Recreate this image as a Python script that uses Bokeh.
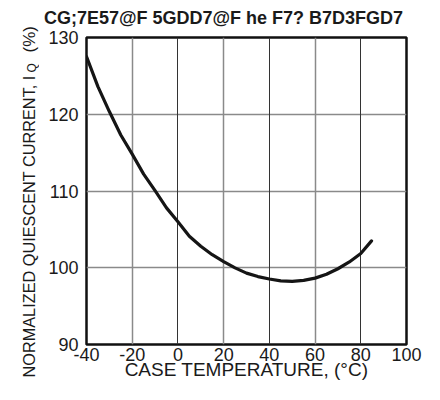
from math import pi
from bokeh.plotting import figure
from bokeh.models import Label, FixedTicker, Range1d, Grid
from bokeh.layouts import row, column
from bokeh.embed import file_html
from bokeh.resources import INLINE

# ---- data ----
temp_c = [-40, -35, -30, -25, -20, -15, -10, -5, 0, 5, 10, 15, 20, 25,
          30, 35, 40, 45, 50, 55, 60, 65, 70, 75, 80, 84.7]
iq_pct = [127.5, 123.6, 120.35, 117.3, 114.8, 112.2, 110.05, 107.8, 106.0,
          104.1, 102.8, 101.7, 100.8, 99.98, 99.3, 98.85, 98.53, 98.3, 98.23,
          98.35, 98.65, 99.15, 99.87, 100.75, 101.85, 103.5]
x_ticks = [-40, -20, 0, 20, 40, 60, 80, 100]
x_tick_labels = ["-40", "-20", "0", "20", "40", "60", "80", "100"]
y_ticks = [90, 100, 110, 120, 130]
x_grid_light = [-20, 20, 60]
x_grid_dark = [0, 40, 80]
title_text = "CG;7E57@F 5GDD7@F he F7? B7D3FGD7"
x_label = "CASE TEMPERATURE, (\u00b0C)"
y_label_main = "NORMALIZED QUIESCENT CURRENT, I"
y_label_sub = "Q"
y_label_tail = "(%)"

SANS = "'Liberation Sans', Arial, sans-serif"
INK = "#1a1a1a"

# layout in picture pixels
W, H = 424, 384
LW = 39                 # left strip holding the vertical axis title
MW = W - LW             # main figure width
TH = 27                 # strip holding the chart title
MH = H - TH             # main figure height
FRAME_L, FRAME_R = 86, 406


def no_align(f):
    if "frame_align" in f.properties():
        f.frame_align = False
    return f


def text_strip(w, h, x0, y0):
    f = figure(width=w, height=h, x_range=Range1d(x0, x0 + w),
               y_range=Range1d(y0 + h, y0), output_backend="svg",
               toolbar_location=None, x_axis_location=None,
               y_axis_location=None, min_border=0)
    f.grid.visible = False
    f.outline_line_color = None
    f.background_fill_color = "white"
    f.border_fill_color = "white"
    return no_align(f)


# ---- left strip: vertical axis title with subscript ----
left = text_strip(LW, H, 0, 0)
left.add_layout(Label(x=28.5, y=377, text=y_label_main, angle=pi / 2,
                      text_align="left", text_baseline="alphabetic",
                      text_font=SANS, text_font_size="16.3px",
                      text_color=INK))
left.add_layout(Label(x=31, y=72, text=y_label_sub, angle=pi / 2,
                      text_align="left", text_baseline="alphabetic",
                      text_font=SANS, text_font_size="12px",
                      text_color=INK))
left.add_layout(Label(x=28.5, y=52, text=y_label_tail, angle=pi / 2,
                      text_align="left", text_baseline="alphabetic",
                      text_font=SANS, text_font_size="17px",
                      text_color=INK))

# ---- top strip: chart title ----
top = text_strip(MW, TH, LW, 0)
top.add_layout(Label(x=223, y=17.5, text=title_text, text_align="center",
                     text_baseline="alphabetic", text_font=SANS,
                     text_font_style="bold", text_font_size="18px",
                     text_color=INK))

# ---- main chart ----
p = figure(width=MW, height=MH, x_range=Range1d(-40, 100),
           y_range=Range1d(90, 130), output_backend="svg",
           toolbar_location=None,
           min_border_left=FRAME_L - LW, min_border_right=W - FRAME_R,
           min_border_top=10, min_border_bottom=40)
no_align(p)
p.background_fill_color = "white"
p.border_fill_color = "white"
p.outline_line_color = "#111111"
p.outline_line_width = 2.5

for ax in (p.xaxis[0], p.yaxis[0]):
    ax.axis_line_color = None
    ax.major_tick_out = 0
    ax.major_tick_in = 0
    ax.minor_tick_out = 0
    ax.minor_tick_in = 0
    ax.major_label_text_font = SANS
    ax.major_label_text_font_size = "18px"
    ax.major_label_text_color = INK

p.xaxis.ticker = FixedTicker(ticks=x_ticks)
p.xaxis.major_label_overrides = dict(zip(x_ticks, x_tick_labels))
p.yaxis.ticker = FixedTicker(ticks=y_ticks)
p.xaxis.major_label_standoff = 3
p.yaxis.major_label_standoff = 8
p.xaxis.axis_label = x_label
p.xaxis.axis_label_text_font = SANS
p.xaxis.axis_label_text_font_size = "19px"
p.xaxis.axis_label_text_font_style = "normal"
p.xaxis.axis_label_text_color = INK
p.xaxis.axis_label_standoff = -5

p.xgrid.ticker = FixedTicker(ticks=x_grid_light)
p.xgrid.grid_line_color = "#8a8a8a"
p.xgrid.grid_line_width = 1.5
p.add_layout(Grid(dimension=0, ticker=FixedTicker(ticks=x_grid_dark),
                  grid_line_color="#333333", grid_line_width=1))
p.ygrid.ticker = FixedTicker(ticks=y_ticks)
p.ygrid.grid_line_color = "#8a8a8a"
p.ygrid.grid_line_width = 1.5

p.line(temp_c, iq_pct, line_color="#151515", line_width=3.2,
       line_join="round", line_cap="round")

layout = row(left, column(top, p))
open("out.html", "w").write(file_html(layout, INLINE))
